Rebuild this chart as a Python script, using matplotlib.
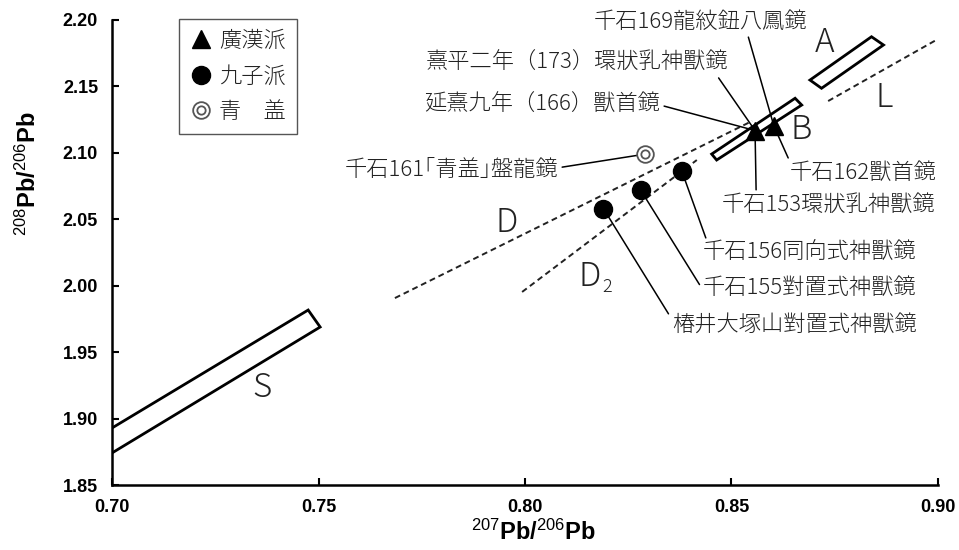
import matplotlib.pyplot as plt
from matplotlib.patches import Polygon
from matplotlib.lines import Line2D
from matplotlib.legend_handler import HandlerTuple

plt.rcParams['font.family'] = ['Noto Sans CJK JP', 'DejaVu Sans']
plt.rcParams['mathtext.fontset'] = 'custom'
plt.rcParams['mathtext.rm'] = 'Liberation Sans'
plt.rcParams['mathtext.default'] = 'rm'

# 廣漢派 (triangles)
kokan_x = [0.8557, 0.8603]
kokan_y = [2.1168, 2.1199]
# 九子派 (filled circles)
kyushi_x = [0.819, 0.828, 0.838]
kyushi_y = [2.058, 2.072, 2.086]
# 青盖 (double circle)
seigai_x = [0.829]
seigai_y = [2.099]

# lead isotope fields (corners)
field_a = [(0.8690, 2.1548), (0.8839, 2.1874), (0.8868, 2.1812), (0.8718, 2.1486)]
field_b = [(0.8452, 2.0991), (0.8654, 2.1411), (0.8670, 2.1360), (0.8464, 2.0946)]
field_s = [(0.69, 1.8742), (0.7475, 1.9817), (0.7504, 1.9689), (0.69, 1.8553)]

# dashed lines
line_l_x, line_l_y = [0.8734, 0.90], [2.139, 2.1857]
line_d_x, line_d_y = [0.7685, 0.855], [1.9907, 2.124]
line_d2_x, line_d2_y = [0.7993, 0.8416], [1.9953, 2.0946]

xticks = [0.70, 0.75, 0.80, 0.85, 0.90]
yticks = [1.85, 1.90, 1.95, 2.00, 2.05, 2.10, 2.15, 2.20]

W, H = 959, 550
fig = plt.figure(figsize=(W / 100, H / 100), dpi=100)
ax = fig.add_axes([112 / W, 1 - 485 / H, 826 / W, 465 / H])
ax.set_xlim(0.70, 0.90)
ax.set_ylim(1.85, 2.20)

for pts in (field_a, field_b, field_s):
    ax.add_patch(Polygon(pts, closed=True, fill=False, edgecolor='black', lw=2.0, zorder=2))

dash = (0, (3, 2))
ax.plot(line_l_x, line_l_y, color='#222', lw=1.4, ls=dash, zorder=2)
ax.plot(line_d_x, line_d_y, color='#222', lw=1.4, ls=dash, zorder=2)
ax.plot(line_d2_x, line_d2_y, color='#222', lw=1.4, ls=dash, zorder=2)

# annotations: text, series, index, text position (px from top-left), ha, relpos
pts = {'han': (kokan_x, kokan_y), 'kyu': (kyushi_x, kyushi_y), 'sei': (seigai_x, seigai_y)}
notes = [
    ('千石169龍紋鈕八鳳鏡', 'han', 1, (807, 22), 'right', (0.72, 0.0)),
    ('熹平二年（173）環狀乳神獸鏡', 'han', 0, (728, 63), 'right', (0.96, 0.0)),
    ('延熹九年（166）獸首鏡', 'han', 0, (660, 105), 'right', (1.0, 0.5)),
    ('千石161｢青盖｣盤龍鏡', 'sei', 0, (558, 170), 'right', (1.0, 0.6)),
    ('千石162獸首鏡', 'han', 1, (790, 173), 'left', (0.0, 1.0)),
    ('千石153環狀乳神獸鏡', 'han', 0, (722, 205), 'left', (0.16, 1.0)),
    ('千石156同向式神獸鏡', 'kyu', 2, (703, 253), 'left', (0.02, 1.0)),
    ('千石155對置式神獸鏡', 'kyu', 1, (703, 288), 'left', (0.0, 0.4)),
    ('椿井大塚山對置式神獸鏡', 'kyu', 0, (672, 325), 'left', (0.0, 0.75)),
]
for txt, key, i, (tx, ty), ha, rp in notes:
    sx, sy = pts[key]
    ax.annotate(txt, xy=(sx[i], sy[i]), xytext=(tx, H - ty), textcoords='figure pixels',
                ha=ha, va='center', fontsize=16, color='#222', fontweight='light',
                arrowprops=dict(arrowstyle='-', color='black', lw=1.1, shrinkA=1, shrinkB=0,
                                relpos=rp), zorder=3)

ax.plot(kokan_x, kokan_y, ls='none', marker='^', ms=13, color='black', zorder=5)
ax.plot(kyushi_x, kyushi_y, ls='none', marker='o', ms=13, color='black', zorder=5)
ax.plot(seigai_x, seigai_y, ls='none', marker='o', ms=12, mfc='white', mec='#555', mew=1.3, zorder=5)
ax.plot(seigai_x, seigai_y, ls='none', marker='o', ms=6, mfc='white', mec='#555', mew=1.3, zorder=6)

# field letters
letters = [('A', 825, 43), ('B', 801, 130), ('L', 884, 98), ('D', 507, 223), ('D', 590, 277), ('S', 262, 388)]
for s, lx, ly in letters:
    fig.text(lx / W, 1 - ly / H, s, fontsize=24, ha='center', va='center', color='#222',
             fontweight='light')
fig.text(607 / W, 1 - 287 / H, '2', fontsize=13, ha='center', va='center', color='#222',
         fontweight='light')

# legend
h1 = Line2D([], [], ls='none', marker='^', ms=13, color='black')
h2 = Line2D([], [], ls='none', marker='o', ms=13, color='black')
h3a = Line2D([], [], ls='none', marker='o', ms=12, mfc='white', mec='#555', mew=1.3)
h3b = Line2D([], [], ls='none', marker='o', ms=6, mfc='white', mec='#555', mew=1.3)
leg = ax.legend([h1, h2, (h3a, h3b)], ['廣漢派', '九子派', '青　盖'],
                handler_map={tuple: HandlerTuple(ndivide=1)},
                loc='upper left', bbox_to_anchor=(0.081, 1.002), borderaxespad=0,
                fontsize=16, frameon=True, fancybox=False, edgecolor='#555', framealpha=1,
                handlelength=1.0, handletextpad=0.3, labelspacing=0.6, borderpad=0.5)
leg.get_frame().set_linewidth(1.0)
for t in leg.get_texts():
    t.set_color('#222')
    t.set_fontweight('light')

ax.set_xticks(xticks)
ax.set_yticks(yticks)
ax.set_xticklabels([f'{v:.2f}' for v in xticks])
ax.set_yticklabels([f'{v:.2f}' for v in yticks])
ax.tick_params(direction='in', length=5, width=1.5, labelsize=13, pad=10)
for lab in ax.get_xticklabels() + ax.get_yticklabels():
    lab.set_family('Liberation Sans')
    lab.set_fontweight('bold')
for side in ('top', 'right'):
    ax.spines[side].set_visible(False)
for side in ('left', 'bottom'):
    ax.spines[side].set_linewidth(1.8)

ax.set_xlabel(r'$^{207}$Pb/$^{206}$Pb', fontsize=17, fontweight='bold', family='Liberation Sans')
ax.set_ylabel(r'$^{208}$Pb/$^{206}$Pb', fontsize=17, fontweight='bold', family='Liberation Sans')
ax.xaxis.set_label_coords(0.51, -0.075)
ax.yaxis.set_label_coords(-0.086, 0.67)

fig.savefig('out.png', dpi=100)
